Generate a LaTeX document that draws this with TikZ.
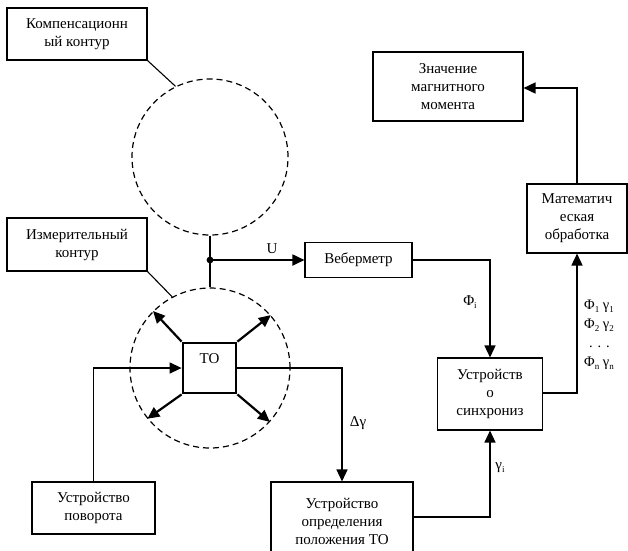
\documentclass[tikz,border=0pt]{standalone}
\usepackage{fontspec}
\setmainfont{Liberation Serif}
\usetikzlibrary{arrows.meta}
\newcommand\fsz{\fontsize{15}{18}\selectfont}
\newcommand\sbs[1]{\raisebox{-0.35ex}{\small #1}}
\begin{document}
\begin{tikzpicture}[x=1pt,y=-1pt,
  box/.style={draw, line width=1.1pt, align=center, inner sep=0pt, font=\fsz},
  ring/.style={draw, circle, dash pattern=on 6pt off 4pt, line width=1.2pt, inner sep=0pt},
  plain/.style={line width=1.1pt},
  arr/.style={line width=1.8pt, -{Triangle[length=12pt,width=11pt]}},
  lbl/.style={font=\fsz, inner sep=0pt}]
\clip (0,0) rectangle (628,550);
\fill[white] (0,0) rectangle (628,550);
% boxes
\node[box, minimum width=140, minimum height=52] (komp) at (77,34) {Компенсационн\\ый контур};
\node[box, minimum width=140, minimum height=53] (izm) at (77,244.5) {Измерительный\\контур};
\node[box, minimum width=107, minimum height=35] (veb) at (358.5,260) {Веберметр};
\node[box, minimum width=123, minimum height=52] (pov) at (93.5,508) {Устройство\\поворота};
\node[box, minimum width=142, minimum height=78] (opr) at (342,521) {Устройство\\определения\\положения ТО};
\node[box, minimum width=105, minimum height=72] (sync) at (490,394) {Устройств\\о\\синхрониз};
\node[box, minimum width=100, minimum height=69] (math) at (577,218.5) {Математич\\еская\\обработка};
\node[box, minimum width=150, minimum height=69] (zn) at (448,86.5) {Значение\\магнитного\\момента};
% circles
\node[ring, minimum size=156] (c1) at (210,157) {};
\node[ring, minimum size=160] (c2) at (210,368) {};
% TO
\node[draw, line width=2.8pt, minimum width=53, minimum height=50, inner sep=0pt] (to) at (209.5,368) {};
\node[lbl] (tolbl) at (209.5,359) {ТО};
% leader lines
\draw[plain] (komp.south east) -- (c1.116);
\draw[plain] (izm.south east) -- (c2.118);
% junction
\coordinate (j) at (210,260);
\draw[plain] (c1.south) -- (c2.north);
\fill (j) circle (3.4pt);
\draw[arr] (j) -- (veb.west);
\node[lbl] (u) at (272,249) {U};
% TO arrows
\draw[arr, line width=2.2pt] (to.north west) -- (c2.135);
\draw[arr, line width=2.2pt] (to.north east) -- (c2.41);
\draw[arr, line width=2.2pt] (to.south west) -- (c2.219);
\draw[arr, line width=2.2pt] (to.south east) -- (c2.318);
% connections
\draw[arr, line width=1.4pt] (pov.north) |- (to.west);
\draw[arr, line width=1.4pt] (to.east) -| (opr.north);
\node[lbl] (dg) at (358,423) {Δγ};
\draw[arr, line width=1.4pt] (veb.east) -| (sync.north);
\node[lbl] (phii) at (470,302) {Φ\sbs{i}};
\draw[arr, line width=1.4pt] (opr.east |- 0,517) -| (sync.south);
\node[lbl] (gi) at (500,468) {γ\sbs{i}};
\draw[arr, line width=1.6pt] (sync.east |- 0,393) -| (math.south);
\node[lbl, align=left, anchor=north west, font=\fontsize{14.5}{19}\selectfont] (stack) at (584,300)
  {Φ\sbs{1} γ\sbs{1}\\Φ\sbs{2} γ\sbs{2}\\\hspace*{5pt}. . .\\Φ\sbs{n} γ\sbs{n}};
\draw[arr, line width=1.6pt] (math.north) |- (zn.east |- 0,88);
\end{tikzpicture}
\end{document}
